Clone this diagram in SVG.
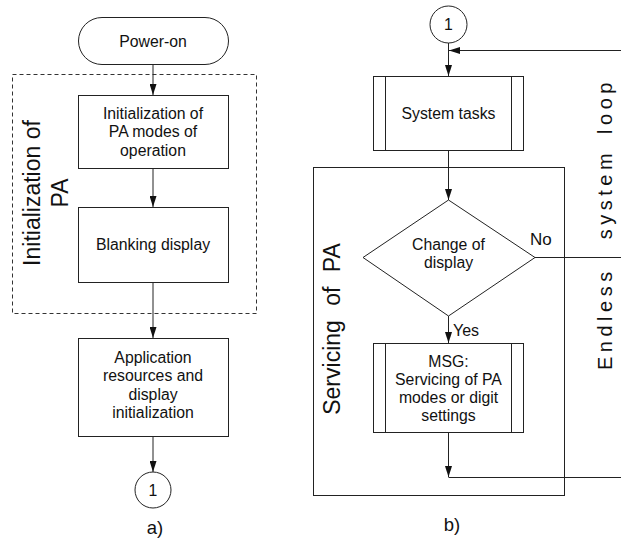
<svg xmlns="http://www.w3.org/2000/svg" width="621" height="540" viewBox="0 0 621 540">
<defs>
<marker id="arr" markerWidth="11" markerHeight="7" refX="11" refY="3.5" orient="auto" markerUnits="userSpaceOnUse">
<path d="M0,0 L11,3.5 L0,7 z" fill="#111"/>
</marker>
<style>
.box{fill:#fff;stroke:#222;stroke-width:1}
.frame{fill:none;stroke:#222;stroke-width:1}
.dash{fill:none;stroke:#333;stroke-width:1;stroke-dasharray:4,3}
.ln{fill:none;stroke:#222;stroke-width:1}
.t{font-family:"Liberation Sans",Arial,sans-serif;font-size:15.8px;fill:#111;text-anchor:middle}
.big{font-family:"Liberation Sans",Arial,sans-serif;font-size:23px;fill:#111;text-anchor:middle}
.lbl{font-family:"Liberation Sans",Arial,sans-serif;font-size:17px;fill:#111}
.cap{font-family:"Liberation Sans",Arial,sans-serif;font-size:18.5px;fill:#111;text-anchor:middle}
</style>
</defs>
<rect width="621" height="540" fill="#fff"/>

<!-- group frames -->
<g id="init-group">
<rect class="dash" x="12.5" y="74.5" width="244" height="239"/>
<text class="big" transform="translate(40,193) rotate(-90)"><tspan x="0" y="0">Initialization of</tspan><tspan x="0" y="28">PA</tspan></text>
</g>
<g id="servicing-group">
<rect class="frame" x="313.5" y="167.5" width="251" height="328"/>
<text class="big" transform="translate(340,329) rotate(-90)" word-spacing="8">Servicing of PA</text>
</g>

<!-- connectors -->
<g id="connectors">
<line class="ln" x1="153" y1="64" x2="153" y2="95" marker-end="url(#arr)"/>
<line class="ln" x1="153" y1="168" x2="153" y2="207" marker-end="url(#arr)"/>
<line class="ln" x1="153" y1="282" x2="153" y2="338" marker-end="url(#arr)"/>
<line class="ln" x1="153" y1="436" x2="153" y2="472" marker-end="url(#arr)"/>
<line class="ln" x1="448.5" y1="43" x2="448.5" y2="76" marker-end="url(#arr)"/>
<line class="ln" x1="621" y1="50.5" x2="449" y2="50.5" marker-end="url(#arr)"/>
<line class="ln" x1="448.5" y1="150" x2="448.5" y2="200" marker-end="url(#arr)"/>
<line class="ln" x1="448.5" y1="316" x2="448.5" y2="343" marker-end="url(#arr)"/>
<line class="ln" x1="535" y1="257.5" x2="621" y2="257.5"/>
<line class="ln" x1="448.5" y1="432" x2="448.5" y2="477" marker-end="url(#arr)"/>
<line class="ln" x1="448.5" y1="477.5" x2="621" y2="477.5"/>
<text class="lbl" x="530" y="245">No</text>
<text class="lbl" x="453" y="336" style="font-size:16px">Yes</text>
</g>

<!-- left panel nodes -->
<g id="power-on">
<rect class="box" x="78.5" y="17.5" width="150" height="47" rx="23.5" ry="23.5"/>
<text class="t" x="153" y="46.5">Power-on</text>
</g>
<g id="init-modes">
<rect class="box" x="78.5" y="95.5" width="150" height="73"/>
<text class="t"><tspan x="153" y="118.5">Initialization of</tspan><tspan x="153" y="137">PA modes of</tspan><tspan x="153" y="155.5">operation</tspan></text>
</g>
<g id="blanking">
<rect class="box" x="78.5" y="207.5" width="150" height="75"/>
<text class="t" x="153" y="249.5">Blanking display</text>
</g>
<g id="app-init">
<rect class="box" x="78.5" y="338.5" width="150" height="98"/>
<text class="t"><tspan x="153" y="362.5">Application</tspan><tspan x="153" y="381">resources and</tspan><tspan x="153" y="399.5">display</tspan><tspan x="153" y="418">initialization</tspan></text>
</g>
<g id="conn-a">
<circle class="box" cx="153" cy="490" r="18"/>
<text class="t" x="153" y="495.5">1</text>
</g>
<text class="cap" x="155" y="534">a)</text>

<!-- right panel nodes -->
<g id="conn-b">
<circle class="box" cx="448.5" cy="24.5" r="18.5"/>
<text class="t" x="448.5" y="30">1</text>
</g>
<g id="system-tasks">
<rect class="box" x="373.5" y="76.5" width="150" height="74"/>
<line class="ln" x1="385.5" y1="76.5" x2="385.5" y2="150.5"/>
<line class="ln" x1="511.5" y1="76.5" x2="511.5" y2="150.5"/>
<text class="t" x="448.5" y="118.5">System tasks</text>
</g>
<g id="change-display">
<polygon class="box" points="448.5,200 535,257.5 448.5,316 363,257.5"/>
<text class="t"><tspan x="448.5" y="250">Change of</tspan><tspan x="448.5" y="268">display</tspan></text>
</g>
<g id="msg">
<rect class="box" x="373.5" y="343.5" width="150" height="89"/>
<line class="ln" x1="385.5" y1="343.5" x2="385.5" y2="432.5"/>
<line class="ln" x1="511.5" y1="343.5" x2="511.5" y2="432.5"/>
<text class="t"><tspan x="448.5" y="367">MSG:</tspan><tspan x="448.5" y="385">Servicing of PA</tspan><tspan x="448.5" y="402.5">modes or digit</tspan><tspan x="448.5" y="420.5">settings</tspan></text>
</g>
<g id="endless-label">
<text class="lbl" transform="translate(612,370) rotate(-90)" style="font-size:20px" letter-spacing="4.5">Endless<tspan dx="18"> system</tspan><tspan dx="5"> loop</tspan></text>
</g>
<text class="cap" x="452" y="531">b)</text>
</svg>
